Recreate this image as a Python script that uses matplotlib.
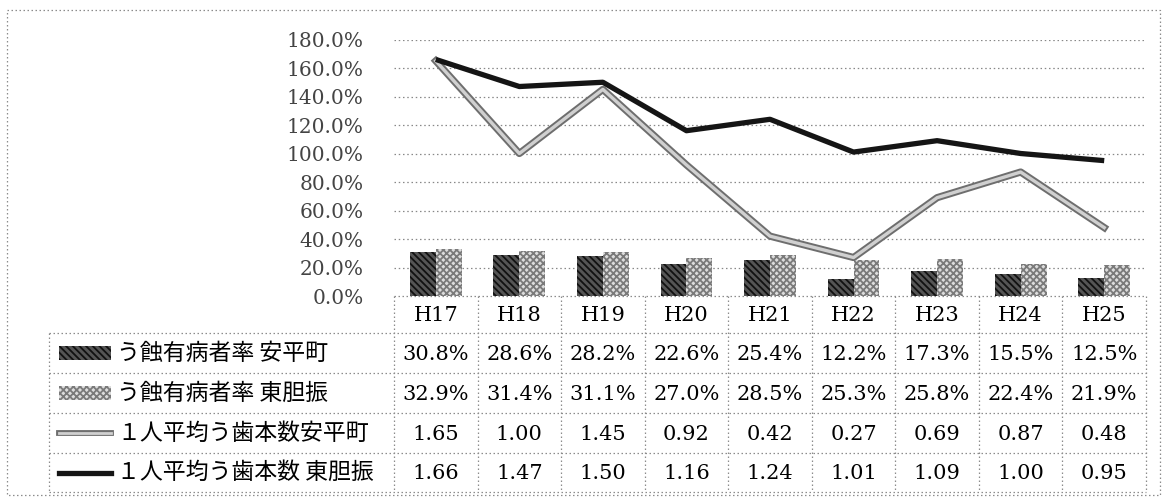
import matplotlib
matplotlib.use("Agg")
import matplotlib.pyplot as plt
import matplotlib.patheffects as pe
from matplotlib.patches import Rectangle
from matplotlib.lines import Line2D
from matplotlib.ticker import FuncFormatter

plt.rcParams['font.family'] = ['DejaVu Serif', 'Noto Sans CJK JP', 'DejaVu Sans']
plt.rcParams['hatch.linewidth'] = 1.3

# data
years = ['H17', 'H18', 'H19', 'H20', 'H21', 'H22', 'H23', 'H24', 'H25']
rate_anpei = [30.8, 28.6, 28.2, 22.6, 25.4, 12.2, 17.3, 15.5, 12.5]   # %
rate_higashi = [32.9, 31.4, 31.1, 27.0, 28.5, 25.3, 25.8, 22.4, 21.9]  # %
teeth_anpei = [1.65, 1.00, 1.45, 0.92, 0.42, 0.27, 0.69, 0.87, 0.48]
teeth_higashi = [1.66, 1.47, 1.50, 1.16, 1.24, 1.01, 1.09, 1.00, 0.95]
row_names = ['う蝕有病者率 安平町', 'う蝕有病者率 東胆振',
             '１人平均う歯本数安平町', '１人平均う歯本数 東胆振']
yticks = [0, 0.2, 0.4, 0.6, 0.8, 1.0, 1.2, 1.4, 1.6, 1.8]

W, H = 1164, 498
fig = plt.figure(figsize=(W / 100, H / 100), dpi=100)

# table/frame layer in pixel coords
lay = fig.add_axes([0, 0, 1, 1])
lay.set_xlim(0, W)
lay.set_ylim(H, 0)
lay.axis('off')

x0, x1 = 394, 1146      # plot area left/right (px)
y_top, y_zero = 39.5, 296
ax = fig.add_axes([x0 / W, (H - y_zero) / H, (x1 - x0) / W, (y_zero - y_top) / H])
ax.set_zorder(2)
ax.patch.set_alpha(0)

n = len(years)
xs = list(range(n))
bw = 0.31
dark_bar = dict(facecolor='#555555', edgecolor='#111111', hatch='\\\\\\\\\\', linewidth=0)
light_bar = dict(facecolor='#dddddd', edgecolor='#7a7a7a', hatch='xxxxx', linewidth=0)
ax.bar([x - bw / 2 for x in xs], [v / 100 for v in rate_anpei], bw, **dark_bar)
ax.bar([x + bw / 2 for x in xs], [v / 100 for v in rate_higashi], bw, **light_bar)

light_fx = [pe.Stroke(linewidth=5.2, foreground='#6e6e6e'), pe.Normal()]
ax.plot(xs, teeth_anpei, color='#d0d0d0', lw=2.4, path_effects=light_fx, solid_joinstyle='round')
ax.plot(xs, teeth_higashi, color='#151515', lw=3.8, solid_joinstyle='round', solid_capstyle='butt')

ax.set_xlim(-0.5, n - 0.5)
ax.set_ylim(0, 1.8)
ax.set_yticks(yticks)
ax.yaxis.set_major_formatter(FuncFormatter(lambda v, p: f'{v * 100:.1f}%'))
ax.tick_params(axis='y', length=0, pad=22, labelsize=14.5, labelcolor='#444444')
ax.set_xticks([])
for s in ax.spines.values():
    s.set_visible(False)
for t in yticks[1:]:
    ax.axhline(t, color='#888888', lw=0.9, ls=(0, (1.2, 2.2)), zorder=0)

# outer frame
dot = dict(color='#8c8c8c', lw=0.9, ls=(0, (1.2, 2.0)))
lay.add_patch(Rectangle((7, 10), 1153, 485, fill=False, **dot))

# data table
col_w = (x1 - x0) / n
rows_y = [296, 333, 373, 413, 453, 492]
leg_x = 49
for i in range(n + 1):
    cx = x0 + i * col_w
    lay.plot([cx, cx], [rows_y[0], rows_y[-1]], **dot)
lay.plot([leg_x, leg_x], [rows_y[1], rows_y[-1]], **dot)
lay.plot([x0, x1], [rows_y[0], rows_y[0]], **dot)
for ry in rows_y[1:]:
    lay.plot([leg_x, x1], [ry, ry], **dot)

fs = 15
for i, yr in enumerate(years):
    cx = x0 + (i + 0.5) * col_w
    lay.text(cx, (rows_y[0] + rows_y[1]) / 2 + 1, yr, ha='center', va='center', fontsize=fs)
    vals = [f'{rate_anpei[i]:.1f}%', f'{rate_higashi[i]:.1f}%',
            f'{teeth_anpei[i]:.2f}', f'{teeth_higashi[i]:.2f}']
    for r, v in enumerate(vals):
        cy = (rows_y[r + 1] + rows_y[r + 2]) / 2 + 1
        lay.text(cx, cy, v, ha='center', va='center', fontsize=fs)

# legend keys + row names
for r, name in enumerate(row_names):
    cy = (rows_y[r + 1] + rows_y[r + 2]) / 2
    if r == 0:
        lay.add_patch(Rectangle((59, cy - 7), 52, 14, **dark_bar))
    elif r == 1:
        lay.add_patch(Rectangle((59, cy - 7), 52, 14, **light_bar))
    elif r == 2:
        lay.add_line(Line2D([59, 111], [cy, cy], color='#d0d0d0', lw=2.0,
                            path_effects=[pe.Stroke(linewidth=4.2, foreground='#6e6e6e'), pe.Normal()]))
    else:
        lay.add_line(Line2D([59, 111], [cy, cy], color='#151515', lw=3.8))
    lay.text(117, cy, name, ha='left', va='center', fontsize=16.5,
             family=['Noto Sans CJK JP', 'DejaVu Sans'])

fig.savefig('out.png', dpi=100)
